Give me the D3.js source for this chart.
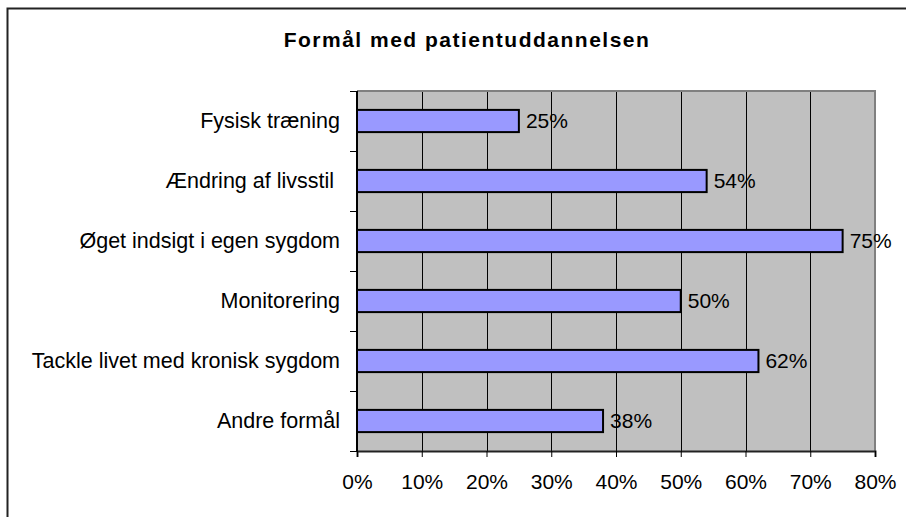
<!DOCTYPE html>
<html>
<head>
<meta charset="utf-8">
<script src="https://cdn.jsdelivr.net/npm/d3@7"></script>
<style>
  body { margin: 0; background: #fff; }
  svg { display: block; font-family: "Liberation Sans", Arial, sans-serif; }
</style>
</head>
<body>
<div id="chart"></div>
<script>
const categories = [
  "Fysisk træning",
  "Ændring af livsstil ",
  "Øget indsigt i egen sygdom",
  "Monitorering",
  "Tackle livet med kronisk sygdom",
  "Andre formål"
];
const values = [25, 54, 75, 50, 62, 38];
const xTicks = [0, 10, 20, 30, 40, 50, 60, 70, 80];
const title = "Formål med patientuddannelsen";

const width = 906;
const height = 517;
const margin = { top: 91, right: 31, bottom: 66, left: 357 };

const svg = d3.select('#chart')
  .append('svg')
  .attr('width', width)
  .attr('height', height);

// outer chart frame (only top/left visible in the picture)
svg.append('rect')
  .attr('x', 7.5)
  .attr('y', 8.5)
  .attr('width', 1000)
  .attr('height', 1000)
  .attr('fill', 'none')
  .attr('stroke', '#222')
  .attr('stroke-width', 2);

svg.append('text')
  .attr('x', 467)
  .attr('y', 46.5)
  .attr('text-anchor', 'middle')
  .attr('font-size', 21)
  .attr('font-weight', 'bold')
  .attr('letter-spacing', 1.5)
  .text(title);

const xScale = d3.scaleLinear()
  .domain([0, 80])
  .range([margin.left, width - margin.right]);

const yScale = d3.scaleBand()
  .domain(categories)
  .range([margin.top, height - margin.bottom])
  .padding(0);

const plotW = xScale(80) - xScale(0);
const plotH = yScale.range()[1] - yScale.range()[0];

// plot background
svg.append('rect')
  .attr('x', xScale(0))
  .attr('y', margin.top)
  .attr('width', plotW)
  .attr('height', plotH)
  .attr('fill', '#c0c0c0');

// grid
svg.append('g')
  .selectAll('line')
  .data(xTicks.filter(d => d > 0 && d < 80))
  .join('line')
  .attr('x1', d => Math.round(xScale(d)) + 0.5)
  .attr('x2', d => Math.round(xScale(d)) + 0.5)
  .attr('y1', margin.top)
  .attr('y2', margin.top + plotH)
  .attr('stroke', '#000')
  .attr('stroke-width', 1);

// top and right border of the plot area
svg.append('path')
  .attr('d', `M${xScale(0)},${margin.top} H${xScale(80)} V${margin.top + plotH}`)
  .attr('fill', 'none')
  .attr('stroke', '#808080')
  .attr('stroke-width', 2);

// bars
const barH = yScale.bandwidth() * 0.37;
svg.append('g')
  .selectAll('rect')
  .data(values)
  .join('rect')
  .attr('x', xScale(0))
  .attr('y', (d, i) => yScale(categories[i]) + yScale.bandwidth() / 2 - barH / 2)
  .attr('width', d => xScale(d) - xScale(0))
  .attr('height', barH)
  .attr('fill', '#9999ff')
  .attr('stroke', '#000')
  .attr('stroke-width', 2);

// value labels
svg.append('g')
  .selectAll('text')
  .data(values)
  .join('text')
  .attr('x', d => xScale(d) + 7)
  .attr('y', (d, i) => yScale(categories[i]) + yScale.bandwidth() / 2 + 6.5)
  .attr('font-size', 21)
  .attr('fill', '#000')
  .text(d => d + '%');

// x axis
const xAxis = svg.append('g')
  .attr('transform', `translate(0, ${margin.top + plotH})`)
  .call(d3.axisBottom(xScale).tickValues(xTicks).tickFormat(d => d + '%').tickSize(6).tickPadding(17));
xAxis.select('.domain').attr('stroke', '#222').attr('stroke-width', 2);
xAxis.selectAll('.tick line').attr('stroke', '#000');
xAxis.selectAll('.tick text')
  .attr('font-size', 21)
  .attr('font-family', '"Liberation Sans", Arial, sans-serif')
  .attr('fill', '#000');

// y axis: ticks on the category boundaries
const yAxis = svg.append('g');
yAxis.append('line')
  .attr('x1', xScale(0))
  .attr('x2', xScale(0))
  .attr('y1', margin.top)
  .attr('y2', margin.top + plotH)
  .attr('stroke', '#000')
  .attr('stroke-width', 2);
const bounds = categories.map(c => yScale(c)).concat([yScale.range()[1]]);
yAxis.selectAll('line.tick')
  .data(bounds)
  .join('line')
  .attr('class', 'tick')
  .attr('x1', xScale(0) - 7)
  .attr('x2', xScale(0))
  .attr('y1', d => Math.round(d) + 0.5)
  .attr('y2', d => Math.round(d) + 0.5)
  .attr('stroke', '#000');

yAxis.selectAll('text')
  .data(categories)
  .join('text')
  .attr('x', xScale(0) - 17)
  .attr('y', d => yScale(d) + yScale.bandwidth() / 2 + 6.5)
  .attr('text-anchor', 'end')
  .attr('font-size', 21.5)
  .style('white-space', 'pre')
  .text(d => d);
</script>
</body>
</html>
